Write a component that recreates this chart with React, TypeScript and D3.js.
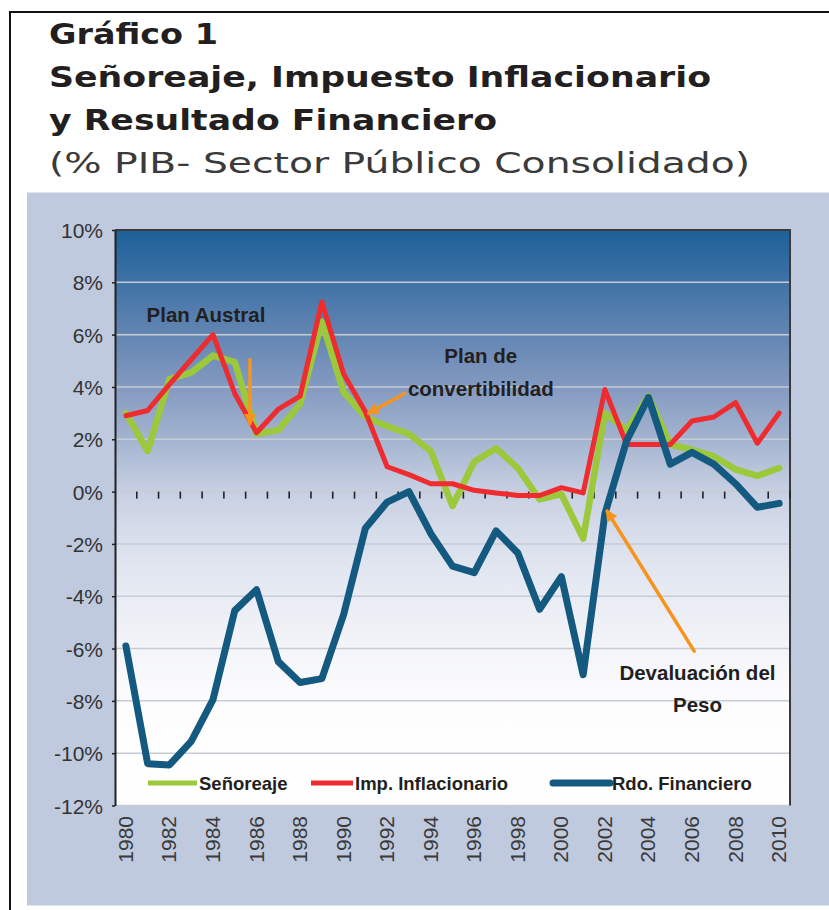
import React, { useRef, useEffect } from 'react';
import * as d3 from 'd3';

// categories
const years = [
  1980, 1981, 1982, 1983, 1984, 1985, 1986, 1987, 1988, 1989,
  1990, 1991, 1992, 1993, 1994, 1995, 1996, 1997, 1998, 1999,
  2000, 2001, 2002, 2003, 2004, 2005, 2006, 2007, 2008, 2009, 2010,
];

// % del PIB
const senoreaje = [
  3.0, 1.55, 4.3, 4.55, 5.2, 4.95, 2.2, 2.35, 3.35, 6.5,
  3.8, 2.85, 2.5, 2.2, 1.55, -0.55, 1.15, 1.65, 0.9, -0.3,
  -0.1, -1.8, 3.0, 2.35, 3.65, 1.8, 1.6, 1.35, 0.85, 0.6, 0.9,
];
const impInflacionario = [
  2.9, 3.1, 4.1, 5.05, 6.0, 3.75, 2.25, 3.15, 3.65, 7.25,
  4.5, 3.05, 0.95, 0.65, 0.3, 0.3, 0.05, -0.05, -0.15, -0.15,
  0.15, -0.05, 3.9, 1.8, 1.8, 1.8, 2.7, 2.85, 3.4, 1.85, 3.0,
];
const rdoFinanciero = [
  -5.9, -10.4, -10.45, -9.55, -7.95, -4.55, -3.75, -6.5, -7.3, -7.15,
  -4.7, -1.4, -0.4, 0.0, -1.6, -2.85, -3.1, -1.5, -2.35, -4.5,
  -3.25, -7.0, -0.85, 1.95, 3.6, 1.05, 1.5, 1.05, 0.3, -0.6, -0.45,
];

const seriesNames = ['Señoreaje', 'Imp. Inflacionario', 'Rdo. Financiero'];
const seriesColors = ['#9cc83b', '#ee2b2f', '#14597f'];

const yTickValues = [-12, -10, -8, -6, -4, -2, 0, 2, 4, 6, 8, 10];
const xTickYears = [1980, 1982, 1984, 1986, 1988, 1990, 1992, 1994, 1996, 1998, 2000, 2002, 2004, 2006, 2008, 2010];

const titleLines = ['Gráfico 1', 'Señoreaje, Impuesto Inflacionario', 'y Resultado Financiero'];
const subtitle = '(% PIB- Sector Público Consolidado)';

// annotations in data units (fractional year, %)
const notes = [
  { lines: ['Plan Austral'], year: 1980.95, value: 6.5, anchor: 'start' },
  { lines: ['Plan de', 'convertibilidad'], year: 1996.3, value: 4.9, anchor: 'middle' },
  { lines: ['Devaluación del', 'Peso'], year: 2006.25, value: -7.2, anchor: 'middle' },
];
const arrows = [
  { from: [1985.7, 5.05], to: [1985.7, 2.6] },
  { from: [1992.8, 3.75], to: [1991.15, 3.0] },
  { from: [2006.1, -6.1], to: [2002.1, -0.75] },
];

const App = () => {
  const ref = useRef(null);

  useEffect(() => {
    const width = 829;
    const height = 910;
    const left = 115, right = 790, top = 230, bottom = 805.5;

    const svg = d3.select(ref.current).attr('width', width).attr('height', height);
    svg.selectAll('*').remove();

    const x = d3.scaleBand().domain(years.map(String)).range([left, right]);
    const bw = x.bandwidth();
    const cx = (yr) => x(String(yr)) + bw / 2;
    const xLin = d3.scaleLinear().domain([1980, 2010]).range([cx(1980), cx(2010)]);
    const y = d3.scaleLinear().domain([-12, 10]).range([bottom, top]);

    const defs = svg.append('defs');
    const grad = defs.append('linearGradient')
      .attr('id', 'bg').attr('x1', 0).attr('y1', 0).attr('x2', 0).attr('y2', 1);
    [
      [0, '#1b6198'], [0.09, '#3f72a6'], [0.18, '#6285b2'], [0.27, '#8299c0'],
      [0.36, '#a2b3cf'], [0.45, '#c6cfe2'], [0.55, '#dbe1ed'], [0.64, '#e9ecf4'],
      [0.73, '#f4f5f9'], [0.83, '#fdfdfe'], [1, '#ffffff'],
    ].forEach(([o, c]) => grad.append('stop').attr('offset', o).attr('stop-color', c));

    defs.append('marker')
      .attr('id', 'arrowhead')
      .attr('viewBox', '0 0 10 10')
      .attr('refX', 8).attr('refY', 5)
      .attr('markerWidth', 14).attr('markerHeight', 12)
      .attr('markerUnits', 'userSpaceOnUse')
      .attr('orient', 'auto')
      .append('path').attr('d', 'M0,0 L10,5 L0,10 Z').attr('fill', '#f7941d');

    // outer frame
    svg.append('rect')
      .attr('x', 10).attr('y', 12).attr('width', 840).attr('height', 920)
      .attr('fill', '#fff').attr('stroke', '#111').attr('stroke-width', 2);

    // titles
    const titleWidths = [169, 662, 448];
    titleLines.forEach((t, i) => {
      svg.append('text')
        .attr('x', 49).attr('y', 43.5 + i * 43)
        .attr('font-family', 'DejaVu Sans').attr('font-weight', 'bold')
        .attr('font-size', 29).attr('fill', '#231f20')
        .attr('textLength', titleWidths[i]).attr('lengthAdjust', 'spacingAndGlyphs')
        .text(t);
    });
    svg.append('text')
      .attr('x', 49).attr('y', 173)
      .attr('font-family', 'DejaVu Sans')
      .attr('font-size', 29).attr('fill', '#3a3a3a')
      .attr('textLength', 701).attr('lengthAdjust', 'spacingAndGlyphs')
      .text(subtitle);

    // panel
    svg.append('rect')
      .attr('x', 27).attr('y', 192.5).attr('width', width - 27).attr('height', 905.5 - 192.5)
      .attr('fill', '#bfcadf');

    // plot background
    svg.append('rect')
      .attr('x', left).attr('y', top).attr('width', right - left).attr('height', bottom - top)
      .attr('fill', 'url(#bg)');

    // gridlines
    svg.append('g')
      .selectAll('line')
      .data(yTickValues.filter(v => v < 10))
      .join('line')
      .attr('x1', left).attr('x2', right)
      .attr('y1', d => y(d)).attr('y2', d => y(d))
      .attr('stroke', '#c6cbd4').attr('stroke-width', 1.5);

    // plot frame (top + right)
    svg.append('path')
      .attr('d', `M${left},${top}H${right}V${bottom}`)
      .attr('fill', 'none').attr('stroke', '#3a3a3a').attr('stroke-width', 2);

    // left axis
    const yAxis = svg.append('g')
      .attr('transform', `translate(${left},0)`)
      .call(d3.axisLeft(y).tickValues(yTickValues).tickSize(3).tickSizeOuter(0).tickFormat(d => `${d}%`).tickPadding(9));
    yAxis.select('.domain').attr('stroke', '#222').attr('stroke-width', 2);
    yAxis.selectAll('.tick line').attr('stroke', '#222').attr('stroke-width', 1.5);
    yAxis.selectAll('.tick text')
      .attr('font-family', 'Liberation Sans, Arial, sans-serif')
      .attr('font-size', 21).attr('fill', '#333').attr('dy', '0.36em');

    // zero axis ticks at category boundaries
    const bounds = years.map(yr => x(String(yr)) + bw);
    svg.append('g')
      .selectAll('line')
      .data(bounds)
      .join('line')
      .attr('x1', d => d).attr('x2', d => d)
      .attr('y1', y(0)).attr('y2', y(0) + 7)
      .attr('stroke', '#222').attr('stroke-width', 1.6);

    // x labels
    svg.append('g')
      .selectAll('text')
      .data(xTickYears)
      .join('text')
      .attr('transform', d => `translate(${cx(d) + 7},816) rotate(-90)`)
      .attr('text-anchor', 'end')
      .attr('font-family', 'Liberation Sans, Arial, sans-serif')
      .attr('font-size', 21).attr('fill', '#3a3a3a')
      .text(d => d);

    // series
    const line = d3.line()
      .x((d, i) => cx(years[i]))
      .y(d => y(d));
    const allSeries = [senoreaje, impInflacionario, rdoFinanciero];
    const widths = [6.5, 5, 7];
    allSeries.forEach((s, i) => {
      svg.append('path')
        .datum(s)
        .attr('d', line)
        .attr('fill', 'none')
        .attr('stroke', seriesColors[i])
        .attr('stroke-width', widths[i])
        .attr('stroke-linejoin', 'round')
        .attr('stroke-linecap', 'round');
    });

    // arrows
    svg.append('g')
      .selectAll('line')
      .data(arrows)
      .join('line')
      .attr('x1', d => xLin(d.from[0])).attr('y1', d => y(d.from[1]))
      .attr('x2', d => xLin(d.to[0])).attr('y2', d => y(d.to[1]))
      .attr('stroke', '#f7941d').attr('stroke-width', 3.5)
      .attr('stroke-linecap', 'round')
      .attr('marker-end', 'url(#arrowhead)');

    // annotation text
    notes.forEach(n => {
      n.lines.forEach((l, j) => {
        svg.append('text')
          .attr('x', xLin(n.year)).attr('y', y(n.value) + j * 32.5)
          .attr('text-anchor', n.anchor)
          .attr('font-family', 'Liberation Sans, Arial, sans-serif')
          .attr('font-weight', 'bold').attr('font-size', 20.5)
          .attr('fill', '#231f20')
          .text(l);
      });
    });

    // legend
    const legendY = 783;
    const legendItems = [
      { x0: 148, x1: 197, w: 5 },
      { x0: 311, x1: 353, w: 5 },
      { x0: 553, x1: 610, w: 7 },
    ];
    legendItems.forEach((it, i) => {
      svg.append('line')
        .attr('x1', it.x0).attr('x2', it.x1)
        .attr('y1', legendY).attr('y2', legendY)
        .attr('stroke', seriesColors[i]).attr('stroke-width', it.w)
        .attr('stroke-linecap', i === 2 ? 'round' : 'butt');
      svg.append('text')
        .attr('x', it.x1 + 2).attr('y', legendY + 6.5)
        .attr('font-family', 'Liberation Sans, Arial, sans-serif')
        .attr('font-weight', 'bold').attr('font-size', 18.5)
        .attr('fill', '#231f20')
        .text(seriesNames[i]);
    });
  }, []);

  return (
    <div style={{ position: 'absolute', left: 0, top: 0 }}>
      <svg ref={ref} style={{ display: 'block' }}></svg>
    </div>
  );
};

export default App;
